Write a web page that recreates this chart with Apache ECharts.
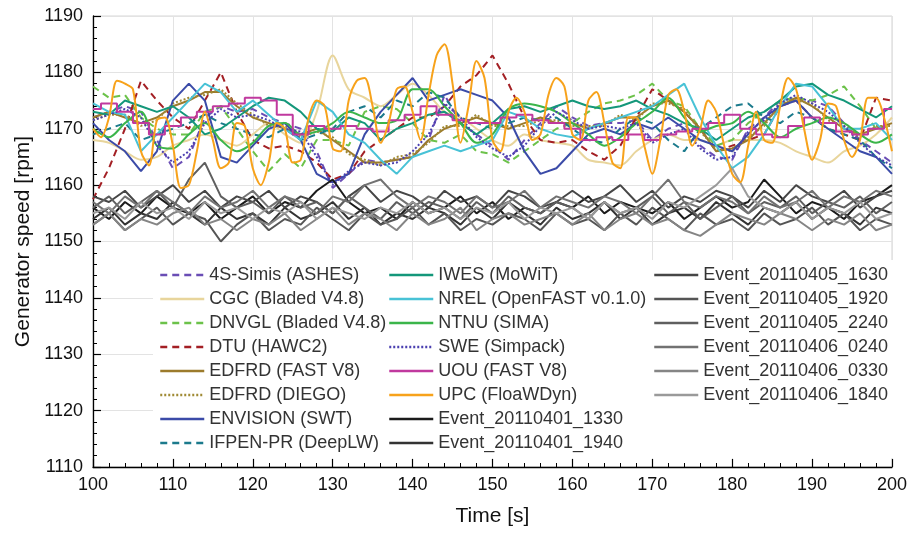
<!DOCTYPE html>
<html>
<head>
<meta charset="utf-8">
<script src="https://cdn.jsdelivr.net/npm/echarts@6/dist/echarts.min.js"></script>
<style>
html, body { margin: 0; padding: 0; background: #fff; }
#main { width: 910px; height: 533px; }
</style>
</head>
<body>
<div id="main"></div>
<script>
// time stamps [s]: 2 s grid for most runs, 1 s grid for UPC
var t2 = [];
for (var i = 0; i <= 50; i++) t2.push(100 + 2 * i);
var t1 = [];
for (var i = 0; i <= 100; i++) t1.push(100 + i);

// generator speed [rpm]
var ashes = [1172,1173,1174,1173,1168,1163,1165,1172,1174,1173,
  1173.5,1172,1171,1170,1166,1159.5,1162,1164.5,1164,1164.5,
  1165,1168,1176,1171,1169,1167,1164.5,1168,1171,1174,
  1172,1170.5,1171,1171,1171.5,1168,1170,1171,1167,1165,
  1164.5,1170,1172,1175,1175.5,1175,1174,1171,1168,1166,1164];
var cgc = [1168,1167.5,1166,1164.5,1165,1167,1168,1169,1168,1167,
  1169,1171,1169,1167.5,1173,1183,1177,1175.5,1174,1176,
  1178,1176,1173,1172,1170,1168,1167,1169,1168,1167.5,
  1167,1164.5,1164,1163.5,1166,1168,1169,1168,1168,1167,
  1168,1168,1168,1167.5,1166,1165,1164,1166,1167,1169,1172];
var dnvgl = [1177.5,1175.5,1176,1172,1170,1169,1169,1173,1174,1170,
  1166,1162.5,1165.5,1163,1168,1168,1167,1173,1174,1173.5,
  1171,1168,1167.5,1169,1166,1165.5,1164,1166,1168,1170,
  1171,1173,1174.5,1175,1176,1178,1175,1174,1170,1167,
  1168,1171,1173,1175,1175.5,1175,1176,1177.5,1174,1170,1170.5];
var dtu = [1157.5,1163,1170,1178.5,1175,1172,1170,1175,1180,1173,
  1168,1166.5,1167,1166,1164,1161,1162,1166,1168,1170,
  1172,1172,1174,1177.5,1179.5,1183,1178,1172,1168,1167.5,
  1168,1166,1164.5,1167,1172,1177,1175,1173,1170,1166,
  1167,1168,1169,1174,1175,1172,1170,1169,1168,1175.5,1175];
var edfFast = [1172,1173,1172,1171,1172,1174,1175,1176.5,1176.5,1174,
  1172,1171,1170,1169,1170,1168,1166,1164,1164,1164.5,
  1165,1168,1170,1171,1172,1171,1170,1171,1172,1171,
  1171,1170,1171,1172,1172,1174,1175,1173,1170,1166,
  1166.5,1168,1171,1174,1175.5,1174,1172,1170,1169,1170,1171];
var edfDiego = [1171.5,1172.5,1172.5,1170.5,1171.5,1174.5,1175.5,1176,1177,1174.5,
  1172.5,1170.5,1170.5,1168.5,1169.5,1168.5,1165.5,1164.5,1163.5,1165,
  1165.5,1167.5,1170.5,1170.5,1172.5,1170.5,1170.5,1170.5,1171.5,1171.5,
  1170.5,1170.5,1170.5,1172.5,1171.5,1174.5,1174.5,1173.5,1169.5,1166.5,
  1166,1168.5,1170.5,1174.5,1175,1174.5,1171.5,1170.5,1168.5,1170.5,1170.5];
var envision = [1171,1168,1166,1162.5,1166,1175,1178,1175,1165,1164,
  1167,1170,1171,1168,1162,1160.5,1162,1169,1173,1176,
  1179,1175,1176,1177,1176,1175,1172,1166,1162,1163,
  1166,1169,1170,1169,1171,1170,1172,1170,1168,1167,
  1166,1169,1172,1174,1175,1172,1170,1168,1166,1165,1162];
var ifpen = [1169,1170,1171,1168,1169,1170,1171,1172.5,1171,1170,
  1169,1168.5,1170,1168,1169,1170,1173,1174,1172,1175,
  1174,1176.5,1175.5,1172,1171,1170,1171,1172,1171.5,1172,
  1170,1168,1167.5,1170,1172,1171,1168,1166,1170,1172,
  1174,1174.5,1172,1171,1173,1172,1170,1169,1168,1165,1163];
var iwes = [1173,1172.5,1175,1174,1173,1174,1172,1169,1170,1172,
  1174,1175.5,1175,1173,1170,1169.5,1172,1171,1168,1170,
  1171,1172.5,1173,1171,1169,1171,1173.5,1174,1173,1174,
  1175,1174,1173.5,1174,1175,1173.5,1172.5,1171,1170,1168,
  1170,1172,1173,1175,1177.5,1178,1176,1175,1173.5,1172,1174];
var nrel = [1174.5,1173,1172.5,1166,1169,1172,1175,1178,1176.5,1173,
  1175,1172.5,1170,1168,1175,1173,1169,1167.5,1164.5,1162,
  1165,1166,1167,1166,1167,1168,1173,1172,1170,1169,
  1168.5,1170,1171,1172,1173,1174,1176,1178,1172,1167,
  1163,1165,1169,1174,1178,1177.5,1174,1170,1170,1171,1168];
var ntnu = [1170,1168.5,1171,1173,1167,1166.5,1169,1171,1168,1166,
  1167.5,1170.5,1171,1169,1169.5,1171,1173,1172,1171,1171.5,
  1177,1177,1174,1171,1167.5,1169,1173.5,1174.5,1174,1173,
  1171,1169,1167,1168.5,1171,1173,1175.5,1172,1169.5,1170.5,
  1171,1173,1171,1168.5,1170,1171,1172,1171,1169,1167.5,1169];
var swe = [1171.5,1172.5,1173.5,1172,1167,1164,1166,1171,1173.5,1172,
  1172.5,1171.5,1170,1169.5,1165,1160,1162.5,1164,1163.5,1164,
  1166,1169,1174.5,1172,1168.5,1166.5,1165,1167,1170.5,1173,
  1171.5,1170,1170.5,1170,1171,1167.5,1169,1170,1166.5,1164.5,
  1165,1169.5,1171.5,1174.5,1176,1174.5,1173,1170.5,1167.5,1165,1163.5];
var uou = [1173.5,1174.5,1173,1171,1169,1170.5,1172,1173,1174,1174.5,
  1175.5,1175,1172.5,1169,1170.5,1170,1170.5,1170,1169.5,1171.5,
  1172.5,1174,1172.5,1171.5,1171,1171,1172,1172.5,1171.5,1171,
  1170,1168,1168.5,1168,1169,1168,1169,1169.5,1170,1171,
  1172.5,1170,1169,1168.5,1170.5,1172,1171,1169.5,1169,1170,1173.5];
var upc = [1170,1168.5,1172,1178.5,1178,1177,1166,1163.5,1171.5,1172,
  1167,1159.5,1160,1166,1173,1168,1163,1164,1171,1170.5,
  1163,1160,1164,1171,1170,1164,1164.5,1172,1175,1174,
  1166.5,1166,1175,1178.5,1179,1174,1167.5,1171,1177,1177.5,
  1173,1168,1176,1183,1185,1178,1167.5,1174,1182,1179,
  1168,1166,1173,1175.5,1173,1168,1169,1176,1179,1177.5,
  1169,1168,1175,1176.5,1171,1164,1163,1172,1172,1167,
  1162,1168,1176,1177,1173,1167,1170,1175,1173,1167,
  1162,1160.5,1167,1173,1168,1167.5,1174,1179,1177,1170,
  1164.5,1168,1174.5,1174,1168,1165,1168,1175.5,1175.5,1172,1166];

// measured events
var ev0401_1330 = [1156,1154,1157,1155,1158,1156,1155,1157,1154,1156,
  1158,1155,1157,1156,1159,1161,1157,1155,1156,1154,
  1157,1155,1156,1158,1155,1157,1154,1156,1155,1157,
  1156,1158,1155,1157,1156,1155,1157,1154,1156,1158,
  1156,1157,1161,1158,1155,1157,1156,1154,1157,1158,1160];
var ev0401_1940 = [1154,1156,1153,1155,1154,1157,1155,1153,1156,1154,
  1155,1153,1156,1154,1155,1157,1154,1156,1153,1155,
  1154,1156,1155,1153,1156,1154,1157,1155,1153,1156,
  1154,1155,1157,1154,1156,1153,1155,1156,1154,1157,
  1155,1153,1156,1155,1157,1154,1156,1155,1153,1156,1155];
var ev0405_1630 = [1158,1157,1159,1156,1158,1160,1157,1159,1156,1158,
  1157,1159,1156,1158,1157,1155,1158,1160,1157,1159,
  1158,1156,1159,1157,1158,1156,1159,1158,1156,1157,
  1159,1157,1158,1160,1157,1159,1156,1158,1157,1159,
  1158,1156,1159,1157,1160,1158,1157,1159,1156,1158,1159];
var ev0405_1920 = [1153,1155,1152,1154,1156,1153,1155,1154,1150,1153,
  1155,1152,1154,1153,1156,1154,1152,1155,1153,1154,
  1156,1153,1155,1152,1154,1153,1155,1154,1152,1155,
  1153,1154,1152,1155,1153,1156,1154,1152,1155,1153,
  1154,1152,1155,1153,1154,1156,1153,1155,1152,1154,1153];
var ev0405_2240 = [1156,1158,1155,1157,1159,1156,1161,1164,1158,1156,
  1157,1155,1158,1156,1157,1155,1158,1156,1154,1157,
  1155,1157,1156,1154,1157,1155,1158,1156,1155,1157,
  1156,1154,1157,1155,1156,1158,1155,1157,1154,1156,
  1158,1155,1157,1156,1158,1155,1157,1156,1158,1155,1157];
var ev0406_0240 = [1157,1155,1158,1156,1159,1157,1155,1158,1156,1157,
  1159,1156,1158,1157,1155,1158,1157,1160,1161,1158,
  1156,1158,1157,1155,1158,1156,1157,1159,1156,1158,
  1157,1156,1158,1157,1155,1158,1161,1157,1156,1158,
  1157,1155,1158,1156,1157,1159,1156,1158,1157,1159,1158];
var ev0406_0330 = [1153,1155,1152,1154,1153,1155,1156,1153,1154,1152,
  1154,1153,1155,1152,1154,1156,1153,1155,1154,1152,
  1155,1153,1154,1156,1152,1154,1155,1153,1154,1155,
  1153,1155,1152,1154,1155,1153,1154,1152,1151,1153,
  1155,1154,1153,1155,1154,1152,1154,1153,1155,1152,1153];
var ev0406_1840 = [1155,1156,1154,1157,1155,1156,1154,1157,1155,1156,
  1154,1156,1155,1157,1154,1156,1155,1154,1156,1155,
  1157,1155,1156,1154,1156,1155,1157,1154,1156,1155,
  1156,1154,1157,1155,1156,1154,1157,1156,1158,1160,
  1163,1158,1156,1155,1157,1154,1156,1155,1157,1154,1155];

// legend columns
var col1 = ['4S-Simis (ASHES)', 'CGC (Bladed V4.8)', 'DNVGL (Bladed V4.8)', 'DTU (HAWC2)',
  'EDFRD (FAST V8)', 'EDFRD (DIEGO)', 'ENVISION (SWT)', 'IFPEN-PR (DeepLW)'];
var col2 = ['IWES (MoWiT)', 'NREL (OpenFAST v0.1.0)', 'NTNU (SIMA)', 'SWE (Simpack)',
  'UOU (FAST V8)', 'UPC (FloaWDyn)', 'Event_20110401_1330', 'Event_20110401_1940'];
var col3 = ['Event_20110405_1630', 'Event_20110405_1920', 'Event_20110405_2240',
  'Event_20110406_0240', 'Event_20110406_0330', 'Event_20110406_1840'];

var DASH = [7, 5], DOT = [2, 2];
var runs = [
  {name: col1[0], t: t2, v: ashes, color: '#6a4db5', type: DASH},
  {name: col1[1], t: t2, v: cgc, color: '#e8d59c', type: 'solid', smooth: 0.3},
  {name: col1[2], t: t2, v: dnvgl, color: '#6cc24a', type: DASH},
  {name: col1[3], t: t2, v: dtu, color: '#a31f24', type: DASH},
  {name: col1[4], t: t2, v: edfFast, color: '#9c7b2c', type: 'solid'},
  {name: col1[5], t: t2, v: edfDiego, color: '#a08a35', type: DOT},
  {name: col1[6], t: t2, v: envision, color: '#3b4ba8', type: 'solid'},
  {name: col1[7], t: t2, v: ifpen, color: '#1b7a8c', type: DASH},
  {name: col2[0], t: t2, v: iwes, color: '#14977a', type: 'solid'},
  {name: col2[1], t: t2, v: nrel, color: '#48c2d6', type: 'solid'},
  {name: col2[2], t: t2, v: ntnu, color: '#3bb54a', type: 'solid', smooth: 0.3},
  {name: col2[3], t: t2, v: swe, color: '#4a3fb0', type: DOT},
  {name: col2[4], t: t2, v: uou, color: '#c0399e', type: 'solid', step: 'middle'},
  {name: col2[5], t: t1, v: upc, color: '#f7a21b', type: 'solid', smooth: 0.3, z: 3},
  {name: col2[6], t: t2, v: ev0401_1330, color: '#1b1b1b', type: 'solid'},
  {name: col2[7], t: t2, v: ev0401_1940, color: '#333333', type: 'solid'},
  {name: col3[0], t: t2, v: ev0405_1630, color: '#464646', type: 'solid'},
  {name: col3[1], t: t2, v: ev0405_1920, color: '#555555', type: 'solid'},
  {name: col3[2], t: t2, v: ev0405_2240, color: '#5f5f5f', type: 'solid'},
  {name: col3[3], t: t2, v: ev0406_0240, color: '#727272', type: 'solid'},
  {name: col3[4], t: t2, v: ev0406_0330, color: '#858585', type: 'solid'},
  {name: col3[5], t: t2, v: ev0406_1840, color: '#9a9a9a', type: 'solid'}
];

var FONT = '"Liberation Sans", Arial, sans-serif';

var series = runs.map(function (r) {
  return {
    name: r.name,
    type: 'line',
    data: r.t.map(function (t, i) { return [t, r.v[i]]; }),
    symbol: 'none',
    smooth: r.smooth || false,
    step: r.step || false,
    z: r.z || 2,
    lineStyle: {color: r.color, width: 2, type: r.type},
    itemStyle: {color: r.color}
  };
});

function legendCol(names, left) {
  return {
    data: names,
    orient: 'vertical',
    left: left,
    top: 266,
    padding: 0,
    itemWidth: 44,
    itemHeight: 14,
    itemGap: 6,
    selectedMode: false,
    itemStyle: {opacity: 0},   // keep only the line sample, no marker
    lineStyle: {width: 2.5},
    textStyle: {fontFamily: FONT, fontSize: 18, color: '#333'}
  };
}

var chart = echarts.init(document.getElementById('main'));
chart.setOption({
  animation: false,
  backgroundColor: '#fff',
  grid: {left: 93, right: 17, top: 16, bottom: 66, show: true, borderColor: '#d6d6d6', borderWidth: 1},
  graphic: [{type: 'rect', z: 1, silent: true,
    shape: {x: 153, y: 260, width: 742, height: 198}, style: {fill: '#fff'}}],
  legend: [legendCol(col1, 159), legendCol(col2, 388), legendCol(col3, 653)],
  xAxis: {
    type: 'value', min: 100, max: 200, interval: 10,
    name: 'Time [s]', nameLocation: 'middle', nameGap: 39,
    nameTextStyle: {fontFamily: FONT, fontSize: 21, color: '#111'},
    axisLine: {lineStyle: {color: '#000', width: 1.3}},
    axisTick: {inside: true, length: 8, lineStyle: {color: '#000', width: 1.2}},
    minorTick: {show: true, splitNumber: 5, length: 4, lineStyle: {color: '#000', width: 1}},
    axisLabel: {fontFamily: FONT, fontSize: 18, color: '#111', margin: 9},
    splitLine: {show: true, lineStyle: {color: '#e3e3e3', width: 1}}
  },
  yAxis: {
    type: 'value', min: 1110, max: 1190, interval: 10,
    name: 'Generator speed [rpm]', nameLocation: 'middle', nameGap: 58,
    nameTextStyle: {fontFamily: FONT, fontSize: 21, color: '#111'},
    axisLine: {show: true, lineStyle: {color: '#000', width: 1.3}},
    axisTick: {show: true, inside: true, length: 8, lineStyle: {color: '#000', width: 1.2}},
    minorTick: {show: true, splitNumber: 5, length: 4, lineStyle: {color: '#000', width: 1}},
    axisLabel: {fontFamily: FONT, fontSize: 18, color: '#111', margin: 10,
      formatter: function (v) { return String(v); }},
    splitLine: {show: true, lineStyle: {color: '#e3e3e3', width: 1}}
  },
  series: series
});
</script>
</body>
</html>
